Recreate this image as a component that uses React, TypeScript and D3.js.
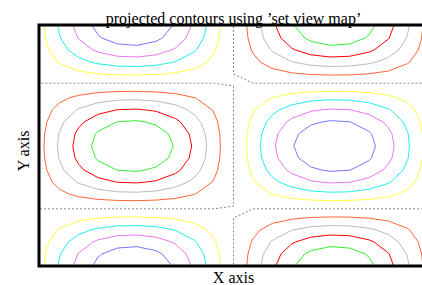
import React from "react";
import * as d3 from "d3";

// Grid sample positions
const xSamples = [-3, -2.7, -2.4, -2.1, -1.8, -1.5, -1.2, -0.9, -0.6, -0.3, 0, 0.3, 0.6, 0.9, 1.2, 1.5, 1.8, 2.1, 2.4, 2.7, 3];
const ySamples = [-3, -2.7, -2.4, -2.1, -1.8, -1.5, -1.2, -0.9, -0.6, -0.3, 0, 0.3, 0.6, 0.9, 1.2, 1.5, 1.8, 2.1, 2.4, 2.7, 3];
// Separable surface factors (column factor × row factor) read from the surface
const xFactor = [-0.1411, -0.4274, -0.6755, -0.8632, -0.9738, -0.9975, -0.932, -0.7833, -0.5646, -0.2955, 0, 0.2955, 0.5646, 0.7833, 0.932, 0.9975, 0.9738, 0.8632, 0.6755, 0.4274, 0.1411];
const yFactor = [-0.99, -0.9041, -0.7374, -0.5048, -0.2272, 0.0707, 0.3624, 0.6216, 0.8253, 0.9553, 1, 0.9553, 0.8253, 0.6216, 0.3624, 0.0707, -0.2272, -0.5048, -0.7374, -0.9041, -0.99];
const levels = [-0.8, -0.6, -0.4, -0.2, 0, 0.2, 0.4, 0.6, 0.8];
const levelColors = ["#33ee33", "#ff0000", "#bbbbbb", "#ff6633", "#888888", "#ffff44", "#22eeee", "#ee77ee", "#7777ff"];
const levelDash = ["", "", "", "", "2,2", "", "", "", ""];
const title = "projected contours using \u2019set view map\u2019";
const xLabel = "X axis";
const yLabel = "Y axis";

const W = 422;
const H = 285;
const plotLeft = 40;
const plotRight = 427;
const plotTop = 26;
const plotBottom = 266;

type P = [number, number];

function contourLines(level: number): P[][] {
  const nx = xSamples.length;
  const ny = ySamples.length;
  const z = (i: number, j: number) => xFactor[i] * yFactor[j];
  const segs: [P, P][] = [];
  const interp = (p1: P, v1: number, p2: P, v2: number): P => {
    const t = v2 === v1 ? 0.5 : (level - v1) / (v2 - v1);
    return [p1[0] + t * (p2[0] - p1[0]), p1[1] + t * (p2[1] - p1[1])];
  };
  for (let i = 0; i < nx - 1; i++) {
    for (let j = 0; j < ny - 1; j++) {
      const pa: P = [xSamples[i], ySamples[j]];
      const pb: P = [xSamples[i + 1], ySamples[j]];
      const pc: P = [xSamples[i + 1], ySamples[j + 1]];
      const pd: P = [xSamples[i], ySamples[j + 1]];
      const va = z(i, j), vb = z(i + 1, j), vc = z(i + 1, j + 1), vd = z(i, j + 1);
      const ia = va >= level, ib = vb >= level, ic = vc >= level, id = vd >= level;
      const pts: P[] = [];
      if (ia !== ib) pts.push(interp(pa, va, pb, vb));
      if (ib !== ic) pts.push(interp(pb, vb, pc, vc));
      if (ic !== id) pts.push(interp(pd, vd, pc, vc));
      if (id !== ia) pts.push(interp(pa, va, pd, vd));
      if (pts.length === 2) segs.push([pts[0], pts[1]]);
      else if (pts.length === 4) {
        const center = (va + vb + vc + vd) / 4;
        if ((center >= level) === ia) {
          segs.push([pts[0], pts[1]]);
          segs.push([pts[2], pts[3]]);
        } else {
          segs.push([pts[0], pts[3]]);
          segs.push([pts[1], pts[2]]);
        }
      }
    }
  }
  const good = segs.filter((s) => Math.hypot(s[0][0] - s[1][0], s[0][1] - s[1][1]) > 1e-9);
  const key = (p: P) => `${p[0].toFixed(6)},${p[1].toFixed(6)}`;
  const map = new Map<string, number[]>();
  good.forEach((s, idx) => {
    for (const p of s) {
      const k = key(p);
      if (!map.has(k)) map.set(k, []);
      map.get(k)!.push(idx);
    }
  });
  const used = new Array(good.length).fill(false);
  const lines: P[][] = [];
  const extend = (line: P[]) => {
    for (;;) {
      const end = line[line.length - 1];
      const cands = map.get(key(end)) || [];
      const next = cands.find((c) => !used[c]);
      if (next === undefined) break;
      used[next] = true;
      const s = good[next];
      line.push(key(s[0]) === key(end) ? s[1] : s[0]);
    }
  };
  for (let s = 0; s < good.length; s++) {
    if (used[s]) continue;
    used[s] = true;
    const line: P[] = [good[s][0], good[s][1]];
    extend(line);
    line.reverse();
    extend(line);
    lines.push(line);
  }
  return lines;
}

export default function App() {
  const x = d3.scaleLinear().domain([xSamples[0], xSamples[xSamples.length - 1]]).range([plotLeft, plotRight]);
  const y = d3.scaleLinear().domain([ySamples[0], ySamples[ySamples.length - 1]]).range([plotBottom, plotTop]);
  const line = d3.line<P>().x((d) => x(d[0])).y((d) => y(d[1]));
  const cx = (plotLeft + plotRight) / 2;
  const cy = (plotTop + plotBottom) / 2;
  return (
    <svg width={W} height={H} style={{ position: "fixed", left: 0, top: 0, background: "#fff" }} fontFamily="'Liberation Serif', 'Times New Roman', serif">
      <rect x={0} y={0} width={W} height={H} fill="#fff" />
      <defs>
        <clipPath id="plotclip">
          <rect x={plotLeft} y={plotTop} width={plotRight - plotLeft} height={plotBottom - plotTop} />
        </clipPath>
      </defs>
      <g clipPath="url(#plotclip)">
        {levels.map((lv, li) =>
          contourLines(lv).map((pts, k) => (
            <path key={`${li}-${k}`} d={line(pts) || ""} fill="none" stroke={levelColors[li]} strokeWidth={1} strokeDasharray={levelDash[li] || undefined} />
          ))
        )}
      </g>
      <rect x={plotLeft - 1} y={plotTop - 1} width={plotRight - plotLeft + 2} height={plotBottom - plotTop + 1} fill="none" stroke="#000" strokeWidth={3} />
      <text x={cx} y={24} textAnchor="middle" fontSize={16} fill="#000">{title}</text>
      <text x={cx} y={283} textAnchor="middle" fontSize={16} fill="#000">{xLabel}</text>
      <text transform={`translate(29,${cy + 5}) rotate(-90)`} textAnchor="middle" fontSize={16} fill="#000">{yLabel}</text>
    </svg>
  );
}
